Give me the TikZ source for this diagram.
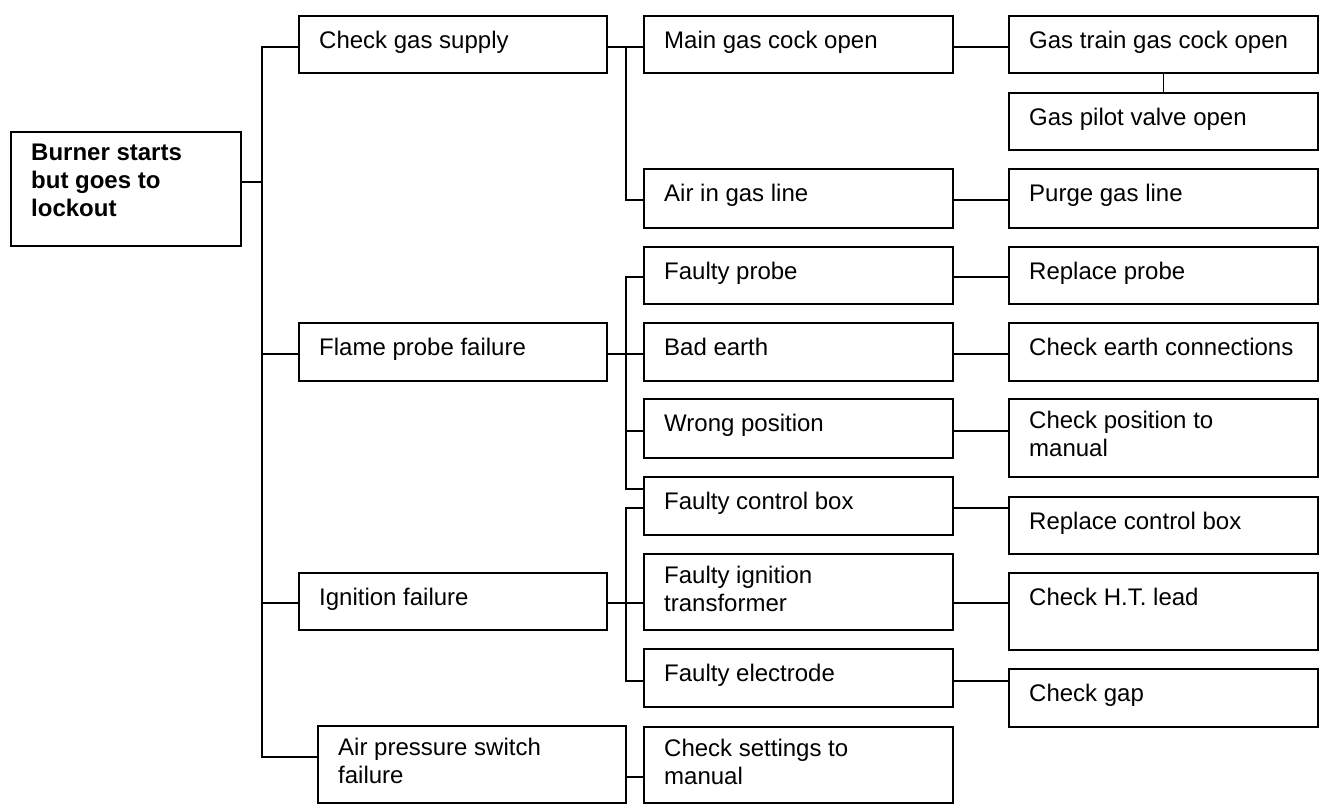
\documentclass[tikz,border=0pt]{standalone}
\usepackage{fontspec}
\setmainfont{Liberation Sans}
\tikzset{
    box/.style={draw, line width=2pt, anchor=north west, inner sep=0pt, minimum width=309pt, minimum height=57pt}, % every box of the chart
    boxtext/.style={anchor=north west, inner sep=0pt, align=left, xshift=21pt, yshift=-13pt, font=\fontsize{24}{28}\selectfont, execute at begin node=\rule{0pt}{20pt}}, % text in the top left corner of a box
    link/.style={line width=1.3pt}, % the connectors
}
\begin{document}
\begin{tikzpicture}[x=1pt, y=-1pt]
    \useasboundingbox (0,0) rectangle (1320,809);
    \node[box, minimum width=230pt, minimum height=114pt, label={[boxtext, font=\fontsize{24}{28}\selectfont\bfseries]north west:Burner starts\\but goes to\\lockout}] (root) at (10,131) {};
    \node[box, minimum width=308pt, label={[boxtext]north west:Check gas supply}] (gas) at (298,15) {};
    \node[box, minimum width=308pt, minimum height=58pt, label={[boxtext]north west:Flame probe failure}] (flame) at (298,322) {};
    \node[box, minimum width=308pt, label={[boxtext]north west:Ignition failure}] (ign) at (298,572) {};
    \node[box, minimum width=308pt, minimum height=77pt, label={[boxtext]north west:Air pressure switch\\failure}] (aps) at (317,725) {};

    \node[box, label={[boxtext]north west:Main gas cock open}] (main) at (643,15) {};
    \node[box, minimum height=59pt, label={[boxtext]north west:Air in gas line}] (air) at (643,168) {};
    \node[box, label={[boxtext]north west:Faulty probe}] (probe) at (643,246) {};
    \node[box, minimum height=58pt, label={[boxtext]north west:Bad earth}] (earth) at (643,322) {};
    \node[box, minimum height=59pt, label={[boxtext]north west:Wrong position}] (wrong) at (643,398) {};
    \node[box, minimum height=58pt, label={[boxtext]north west:Faulty control box}] (ctrl) at (643,476) {};
    \node[box, minimum height=76pt, label={[boxtext]north west:Faulty ignition\\transformer}] (trans) at (643,553) {};
    \node[box, minimum height=58pt, label={[boxtext]north west:Faulty electrode}] (elec) at (643,648) {};
    \node[box, minimum height=76pt, label={[boxtext]north west:Check settings to\\manual}] (settings) at (643,726) {};

    \node[box, label={[boxtext]north west:Gas train gas cock open}] (train) at (1008,15) {};
    \node[box, label={[boxtext]north west:Gas pilot valve open}] (pilot) at (1008,92) {};
    \node[box, minimum height=59pt, label={[boxtext]north west:Purge gas line}] (purge) at (1008,168) {};
    \node[box, label={[boxtext]north west:Replace probe}] (replace) at (1008,246) {};
    \node[box, minimum height=58pt, label={[boxtext]north west:Check earth connections}] (earthfix) at (1008,322) {};
    \node[box, minimum height=78pt, label={[boxtext]north west:Check position to\\manual}] (posfix) at (1008,398) {};
    \node[box, label={[boxtext]north west:Replace control box}] (ctrlfix) at (1008,496) {};
    \node[box, minimum height=77pt, label={[boxtext]north west:Check H.T. lead}] (lead) at (1008,572) {};
    \node[box, minimum height=58pt, label={[boxtext]north west:Check gap}] (gap) at (1008,668) {};

    \foreach \kid/\dy in {gas/32, flame/32, ign/31, aps/32}
        \draw[link] ([yshift=-51pt]root.north east) -- ++(20,0) |- ([yshift=-\dy pt]\kid.north west);
    \foreach \kid in {main, air}
        \draw[link] ([yshift=-32pt]gas.north east) -- ++(18,0) |- ([yshift=-32pt]\kid.north west);
    \foreach \kid/\dy in {probe/31, earth/32, wrong/33, ctrl/13}
        \draw[link] ([yshift=-32pt]flame.north east) -- ++(18,0) |- ([yshift=-\dy pt]\kid.north west);
    \foreach \kid/\dy in {ctrl/32, trans/50, elec/33}
        \draw[link] ([yshift=-31pt]ign.north east) -- ++(18,0) |- ([yshift=-\dy pt]\kid.north west);
    \draw[link] ([yshift=-52pt]aps.north east) -- ([yshift=-51pt]settings.north west);
    \foreach \a/\da/\b/\db in {main/32/train/32, air/32/purge/32, probe/31/replace/31, earth/32/earthfix/32,
        wrong/33/posfix/33, ctrl/32/ctrlfix/12, trans/50/lead/31, elec/33/gap/13}
        \draw[link] ([yshift=-\da pt]\a.north east) -- ([yshift=-\db pt]\b.north west);
    \draw[link] (train.south) -- (pilot.north);
\end{tikzpicture}
\end{document}
